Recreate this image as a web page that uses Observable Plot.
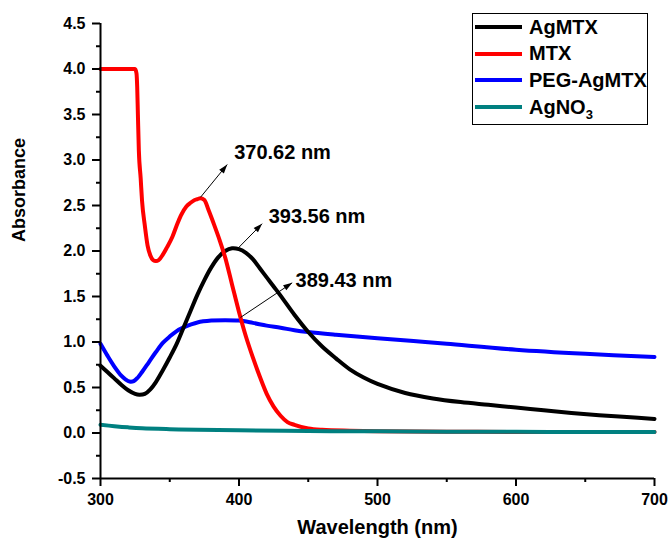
<!DOCTYPE html>
<html><head><meta charset="utf-8">
<script src="https://cdn.jsdelivr.net/npm/d3@7"></script>
<script src="https://cdn.jsdelivr.net/npm/@observablehq/plot@0.6"></script>
<style>
body{margin:0;background:#fff;font-family:"Liberation Sans",Arial,sans-serif;}
#wrap{position:relative;width:668px;height:543px;overflow:hidden;}
#legend{position:absolute;left:472px;top:13px;width:176px;height:112px;border:1.2px solid #000;box-sizing:border-box;background:#fff;font-weight:bold;font-size:20px;color:#000;}
.row{position:absolute;left:0;height:24px;display:flex;align-items:center;white-space:nowrap;}
.sw{width:47px;height:4px;margin-left:2px;margin-right:7px;}
sub{font-size:13px;vertical-align:-5px;line-height:0;}
</style></head><body>
<div id="wrap"><div id="chart"></div><div id="legend"></div></div>
<script>
// ---- data ----
const agmtxX = [300,305,310,315,320,325,328,332,336,340,345,350,355,360,365,370,375,380,385,390,395,400,405,410,415,420,425,430,440,450,460,470,480,490,500,520,540,560,580,600,620,640,660,680,700];
const agmtxY = [0.74,0.67,0.60,0.53,0.47,0.43,0.42,0.43,0.48,0.56,0.69,0.83,0.98,1.16,1.34,1.52,1.68,1.82,1.93,2.00,2.03,2.02,1.98,1.91,1.81,1.71,1.61,1.51,1.30,1.11,0.95,0.82,0.70,0.61,0.54,0.44,0.38,0.34,0.31,0.28,0.25,0.22,0.195,0.175,0.155];

const mtxX = [300,310,320,325,326,326.5,327,327.7,329,330,332,334,336,338,340,342,345,348,352,355,358,362,365,368,370,372,375,378,382,386,390,395,400,405,410,415,420,425,430,435,440,450,460,480,500,550,600,700];
const mtxY = [4.0,4.0,4.0,4.0,3.95,3.8,3.5,3.1,2.8,2.55,2.28,2.06,1.95,1.9,1.89,1.9,1.96,2.04,2.16,2.28,2.39,2.49,2.53,2.56,2.57,2.58,2.56,2.45,2.29,2.12,1.93,1.63,1.33,1.06,0.83,0.62,0.43,0.29,0.19,0.12,0.09,0.05,0.035,0.025,0.02,0.015,0.012,0.01];

const pegX = [300,305,310,315,318,321,324,327,330,335,340,345,350,355,360,365,370,380,390,400,410,420,430,440,450,470,500,526,550,600,650,700];
const pegY = [0.98,0.85,0.73,0.63,0.59,0.565,0.57,0.61,0.67,0.78,0.89,0.99,1.06,1.12,1.16,1.19,1.215,1.235,1.24,1.235,1.21,1.18,1.157,1.13,1.11,1.08,1.04,1.01,0.98,0.915,0.87,0.835];

const agno3X = [300,310,320,330,350,370,400,450,500,550,600,650,700];
const agno3Y = [0.09,0.075,0.062,0.052,0.042,0.035,0.03,0.022,0.018,0.015,0.013,0.011,0.01];

const seriesNames = ["AgMTX","MTX","PEG-AgMTX","AgNO3"];
const seriesColors = ["#000000","#ff0000","#0000ff","#008080"];

const xTicks = [300,400,500,600,700];
const xMinor = [350,450,550,650];
const yTicks = [-0.5,0,0.5,1,1.5,2,2.5,3,3.5,4,4.5];
const yMinor = [-0.25,0.25,0.75,1.25,1.75,2.25,2.75,3.25,3.75,4.25];

const annText = ["370.62 nm","393.56 nm","389.43 nm"];
const annTextX = [396.5,421.4,440.8];
const annTextY = [3.08,2.38,1.68];
const arrowX1 = [372.2,399.9,401.1];
const arrowY1 = [2.59,2.04,1.27];
const arrowX2 = [391.5,416.7,438.4];
const arrowY2 = [2.95,2.30,1.65];

const xTitle = "Wavelength (nm)";
const yTitle = "Absorbance";

// ---- build tables ----
const toRows = (xs, ys, name) => xs.map((x, i) => ({wl: x, abs: ys[i], name}));
const agmtx = toRows(agmtxX, agmtxY, "AgMTX");
const mtx = toRows(mtxX, mtxY, "MTX");
const peg = toRows(pegX, pegY, "PEG-AgMTX");
const agno3 = toRows(agno3X, agno3Y, "AgNO3");
const anns = annText.map((t, i) => ({t, x: annTextX[i], y: annTextY[i]}));
const arrows = arrowX1.map((x, i) => ({x1: x, y1: arrowY1[i], x2: arrowX2[i], y2: arrowY2[i]}));

const color = Object.fromEntries(seriesNames.map((n, i) => [n, seriesColors[i]]));
const lineOpts = (n, curve) => ({x: "wl", y: "abs", stroke: color[n], strokeWidth: 4, curve});

const chart = Plot.plot({
  width: 668, height: 543,
  marginLeft: 100, marginRight: 14, marginTop: 23, marginBottom: 65,
  style: {fontFamily: "'Liberation Sans', Arial, sans-serif", fontSize: "16px", fontWeight: "bold", color: "#000", background: "#fff"},
  x: {domain: [300, 700]},
  y: {domain: [-0.5, 4.5]},
  marks: [
    Plot.line(peg, lineOpts("PEG-AgMTX", "catmull-rom")),
    Plot.line(agmtx, lineOpts("AgMTX", "catmull-rom")),
    Plot.line(mtx, lineOpts("MTX", "monotone-x")),
    Plot.line(agno3, lineOpts("AgNO3", "catmull-rom")),
    Plot.link(arrows, {x1: "x1", y1: "y1", x2: "x2", y2: "y2", stroke: "#000", strokeWidth: 1, markerEnd: "arrow"}),
    Plot.text(anns, {x: "x", y: "y", text: "t", textAnchor: "start", fontSize: 20, fontWeight: "bold", fill: "#000"}),
    Plot.axisY(yTicks, {tickSize: 8, tickPadding: 7, tickFormat: d => d.toFixed(1), strokeWidth: 2, label: null, fill: "#000"}),
    Plot.axisY(yMinor, {tickSize: 4, tickFormat: () => "", strokeWidth: 2, label: null}),
    Plot.axisX(xTicks, {tickSize: 8, tickPadding: 7, tickFormat: d => String(d), strokeWidth: 2, label: null, fill: "#000"}),
    Plot.axisX(xMinor, {tickSize: 4, tickFormat: () => "", strokeWidth: 2, label: null}),
    Plot.ruleX([300], {stroke: "#000", strokeWidth: 2}),
    Plot.ruleY([-0.5], {stroke: "#000", strokeWidth: 2}),
    Plot.text([xTitle], {frameAnchor: "bottom", dy: 55, fontSize: 20, fontWeight: "bold", fill: "#000"}),
    Plot.text([yTitle], {frameAnchor: "left", dx: -81, dy: -9, rotate: -90, fontSize: 18, fontWeight: "bold", fill: "#000"})
  ]
});

// filled arrowheads
chart.querySelectorAll("marker").forEach(m => {
  m.setAttribute("viewBox", "-10 -5 12 10");
  m.setAttribute("markerWidth", "12");
  m.setAttribute("markerHeight", "10");
  m.setAttribute("fill", "#000");
  m.setAttribute("stroke", "none");
  m.querySelectorAll("path").forEach(p => {
    p.setAttribute("d", "M-9,-3L0,0L-9,3Z");
    p.setAttribute("fill", "#000");
    p.setAttribute("stroke", "none");
  });
});
document.getElementById("chart").appendChild(chart);

// legend
const legend = document.getElementById("legend");
const rowTops = [1, 27.7, 54.3, 81];
seriesNames.forEach((n, i) => {
  const row = document.createElement("div");
  row.className = "row";
  row.style.top = rowTops[i] + "px";
  const sw = document.createElement("div");
  sw.className = "sw";
  sw.style.background = seriesColors[i];
  const lab = document.createElement("span");
  if (n === "AgNO3") { lab.innerHTML = "AgNO<sub>3</sub>"; } else { lab.textContent = n; }
  row.appendChild(sw); row.appendChild(lab);
  legend.appendChild(row);
});
</script>
</body></html>
